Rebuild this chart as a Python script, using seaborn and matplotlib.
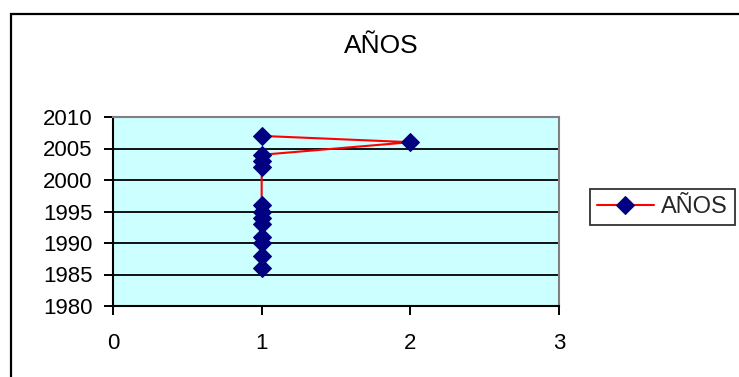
import matplotlib
matplotlib.use("Agg")
import matplotlib.pyplot as plt
from matplotlib.patches import Rectangle
import seaborn as sns
import pandas as pd

# Years recorded and how often each one appears
anios = [1986, 1988, 1990, 1991, 1993, 1994, 1995, 1996, 2002, 2003, 2004, 2006, 2007]
frecuencia = [1, 1, 1, 1, 1, 1, 1, 1, 1, 1, 1, 2, 1]
x_ticks = [0, 1, 2, 3]
y_ticks = [1980, 1985, 1990, 1995, 2000, 2005, 2010]
serie = "AÑOS"

df = pd.DataFrame({"frecuencia": frecuencia, "anio": anios})

sns.set_style("white")
plt.rcParams["font.family"] = ["Liberation Sans", "DejaVu Sans"]

W, H = 739, 377
fig = plt.figure(figsize=(W / 100, H / 100), dpi=100)

# Outer chart frame (runs off the right and bottom edges)
fig.add_artist(Rectangle((11 / W, -0.1), 1.2, 1.1 - 14 / H,
                         transform=fig.transFigure, fill=False,
                         edgecolor="black", linewidth=1.6, zorder=0))

ax = fig.add_axes([113 / W, 1 - 306 / H, (559 - 113) / W, (306 - 117) / H])
ax.set_facecolor("#CCFFFF")

sns.lineplot(data=df, x="frecuencia", y="anio", sort=False, estimator=None,
             ax=ax, color="#FF0000", linewidth=1.5, marker="D", markersize=9,
             markerfacecolor="#000080", markeredgecolor="#000080",
             label=serie, zorder=3)

ax.set_xlim(0, 3)
ax.set_ylim(1980, 2010)
ax.set_xticks(x_ticks)
ax.set_yticks(y_ticks)
ax.set_xlabel("")
ax.set_ylabel("")

ax.yaxis.grid(True, color="black", linewidth=1.3, zorder=1)
ax.xaxis.grid(False)
ax.set_axisbelow(True)

for side in ("left", "bottom"):
    ax.spines[side].set_color("black")
    ax.spines[side].set_linewidth(1.5)
for side in ("top", "right"):
    ax.spines[side].set_color("#808080")
    ax.spines[side].set_linewidth(1.5)

ax.tick_params(axis="both", direction="out", length=6.5, width=1.4,
               color="black", labelsize=16, labelcolor="black")
ax.tick_params(axis="y", left=True, pad=8)
ax.tick_params(axis="x", bottom=True, pad=13)

fig.text(381 / W, 1 - 46 / H, serie, ha="center", va="center",
         fontsize=19, color="black")

leg = ax.legend(loc="upper left", bbox_to_anchor=(590 / W, 1 - 189 / H),
                bbox_transform=fig.transFigure, frameon=True, fancybox=False,
                fontsize=17, handlelength=2.4, handletextpad=0.3,
                borderpad=0.3, borderaxespad=0)
leg.get_frame().set_edgecolor("black")
leg.get_frame().set_linewidth(1.3)

fig.savefig("out.png", dpi=100, facecolor="white")
